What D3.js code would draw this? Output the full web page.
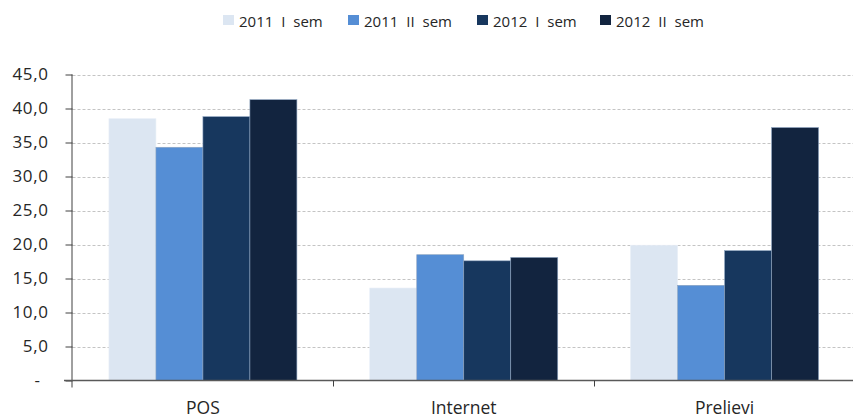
<!DOCTYPE html>
<html><head><meta charset="utf-8">
<script src="https://cdn.jsdelivr.net/npm/d3@7"></script>
<style>body{margin:0;background:#fff;} svg{display:block;}</style>
</head><body>
<svg id="chart" width="853" height="418"></svg>
<script>
const categories = ["POS", "Internet", "Prelievi"];
const seriesNames = ["2011 I sem", "2011 II sem", "2012 I sem", "2012 II sem"];
const s2011I = [38.5, 13.6, 19.9];
const s2011II = [34.3, 18.5, 14.0];
const s2012I = [38.8, 17.6, 19.1];
const s2012II = [41.3, 18.1, 37.2];
const yTicks = [0, 5, 10, 15, 20, 25, 30, 35, 40, 45];
const colors = ["#dce6f2", "#558ed5", "#17375e", "#12243f"];

const series = [s2011I, s2011II, s2012I, s2012II];
const svg = d3.select("#chart");
const font = "'Open Sans', 'Liberation Sans', sans-serif";
const pLeft = 72.5, pRight = 855, pTop = 74.5, pBottom = 380.5;

const x = d3.scaleBand().domain(categories).range([pLeft, pRight]).paddingInner(0).paddingOuter(0);
const x1 = d3.scaleBand().domain(seriesNames).range([0, x.bandwidth()]).paddingInner(0).paddingOuter(0.775);
const y = d3.scaleLinear().domain([0, 45]).range([pBottom, pTop]);

// gridlines
svg.append("g").selectAll("line").data(yTicks.filter(d => d > 0)).join("line")
  .attr("x1", pLeft).attr("x2", 853)
  .attr("y1", d => Math.round(y(d)) + 0.5).attr("y2", d => Math.round(y(d)) + 0.5)
  .attr("stroke", "#c4c4c4").attr("stroke-width", 1).attr("stroke-dasharray", "3,2");

// bars
const g = svg.append("g");
categories.forEach((c, ci) => {
  seriesNames.forEach((s, si) => {
    const v = series[si][ci];
    g.append("rect")
      .attr("x", x(c) + x1(s))
      .attr("width", x1.bandwidth())
      .attr("y", y(v))
      .attr("height", y(0) - y(v))
      .attr("fill", colors[si])
      .attr("stroke", si === 0 ? "#e8eef7" : "#8da4c0")
      .attr("stroke-width", 0.6);
  });
});

// y axis
const yAxis = d3.axisLeft(y).tickValues(yTicks).tickSize(7).tickPadding(4)
  .tickFormat(d => d === 0 ? "-" : d.toFixed(1).replace(".", ","));
const ya = svg.append("g").attr("transform", `translate(${pLeft},0)`).call(yAxis);
ya.select(".domain").attr("stroke", "#404040").attr("d", `M-0.5,${pTop}V${pBottom + 7}`);
ya.selectAll(".tick line").attr("stroke", "#404040");
ya.selectAll(".tick text").attr("font-family", font).attr("font-size", 17).attr("fill", "#262626")
  .attr("x", d => d === 0 ? -35 : -24)
  .attr("text-anchor", d => d === 0 ? "middle" : "end")
  .attr("letter-spacing", 0.6);

// x axis
const xa = svg.append("g").attr("transform", `translate(0,${pBottom})`);
xa.append("line").attr("x1", 64).attr("x2", 853).attr("y1", 0).attr("y2", 0)
  .attr("stroke", "#595959").attr("stroke-width", 1.5);
const bounds = categories.map(c => x(c)).concat([x(categories[categories.length - 1]) + x.bandwidth()]);
xa.selectAll(".ct").data(bounds.slice(1, 3)).join("line")
  .attr("x1", d => Math.round(d) + 0.5).attr("x2", d => Math.round(d) + 0.5)
  .attr("y1", 0).attr("y2", 6).attr("stroke", "#404040");
xa.selectAll("text").data(categories).join("text")
  .attr("x", d => x(d) + x.bandwidth() / 2).attr("y", 33)
  .attr("text-anchor", "middle").attr("font-family", font).attr("font-size", 17.5).attr("fill", "#262626")
  .text(d => d);

// legend
const legX = [223, 348, 477, 600];
const lg = svg.append("g");
seriesNames.forEach((s, i) => {
  lg.append("rect").attr("x", legX[i]).attr("y", 15).attr("width", 11).attr("height", 10).attr("fill", colors[i]);
  lg.append("text").attr("x", legX[i] + 16).attr("y", 26.5)
    .attr("font-family", font).attr("font-size", 15).attr("fill", "#262626")
    .attr("word-spacing", 4).text(s);
});
</script>
</body></html>
